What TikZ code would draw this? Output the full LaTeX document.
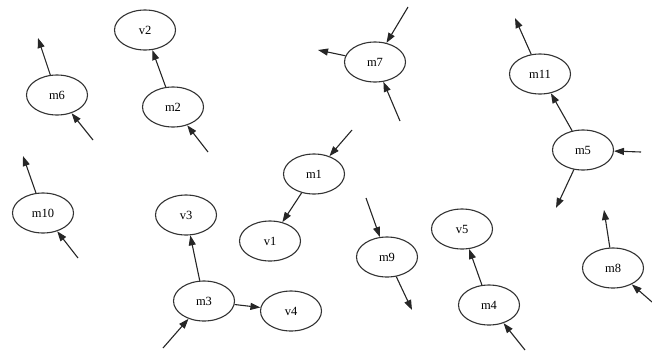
\documentclass[tikz,border=0pt]{standalone}
\usepackage{fontspec}
\setmainfont{Liberation Serif}
\usetikzlibrary{shapes.geometric,arrows.meta}
\begin{document}
\begin{tikzpicture}[x=1pt,y=-1pt,
  nd/.style={ellipse,draw=black!80,line width=1.1pt,minimum width=61pt,minimum height=40pt,inner sep=0pt,font=\fontsize{12.5}{14}\selectfont},
  ed/.style={draw=black!85,line width=1.1pt,-{Triangle[length=10pt,width=7pt]},shorten >=0pt}]
\useasboundingbox (0,0) rectangle (652,354);
% nodes
\node[nd] (v2) at (145,30) {v2};
\node[nd] (m6) at (57,95) {m6};
\node[nd] (m2) at (173,107) {m2};
\node[nd] (m7) at (375,62) {m7};
\node[nd] (m1) at (314,174) {m1};
\node[nd] (m11) at (540,74) {m11};
\node[nd] (m5) at (583,150) {m5};
\node[nd] (m10) at (43,213) {m10};
\node[nd] (v3) at (186,215) {v3};
\node[nd] (m3) at (204,301) {m3};
\node[nd] (v1) at (270,241) {v1};
\node[nd] (v4) at (291,311) {v4};
\node[nd] (m9) at (387,257) {m9};
\node[nd] (v5) at (462,229) {v5};
\node[nd] (m4) at (489,305) {m4};
\node[nd] (m8) at (613,268) {m8};
% free ends
\coordinate (m6o) at (38,38);
\coordinate (m6i) at (93,140);
\coordinate (m2i) at (208,152);
\coordinate (m10o) at (23,156);
\coordinate (m10i) at (78,258);
\coordinate (m3i) at (163,348);
\coordinate (m1i) at (352,130);
\coordinate (m7a) at (408,7);
\coordinate (m7o) at (318,50);
\coordinate (m7b) at (400,121);
\coordinate (m11o) at (515,18);
\coordinate (m5i) at (641,152);
\coordinate (m5o) at (556,208);
\coordinate (m9i) at (366,198);
\coordinate (m9o) at (412,310);
\coordinate (m4i) at (525,350);
\coordinate (m8o) at (604,210);
\coordinate (m8i) at (652,302);
% edges
\draw[ed] (m6) -- (m6o);
\draw[ed] (m6i) -- (m6);
\draw[ed] (m2) -- (v2);
\draw[ed] (m2i) -- (m2);
\draw[ed] (m10) -- (m10o);
\draw[ed] (m10i) -- (m10);
\draw[ed] (m3) -- (v3);
\draw[ed] (m3) -- (v4);
\draw[ed] (m3i) -- (m3);
\draw[ed] (m1) -- (v1);
\draw[ed] (m1i) -- (m1);
\draw[ed] (m7a) -- (m7);
\draw[ed] (m7) -- (m7o);
\draw[ed] (m7b) -- (m7);
\draw[ed] (m11) -- (m11o);
\draw[ed] (m5) -- (m11);
\draw[ed] (m5i) -- (m5);
\draw[ed] (m5) -- (m5o);
\draw[ed] (m9i) -- (m9);
\draw[ed] (m9) -- (m9o);
\draw[ed] (m4) -- (v5);
\draw[ed] (m4i) -- (m4);
\draw[ed] (m8) -- (m8o);
\draw[ed] (m8i) -- (m8);
\end{tikzpicture}
\end{document}
